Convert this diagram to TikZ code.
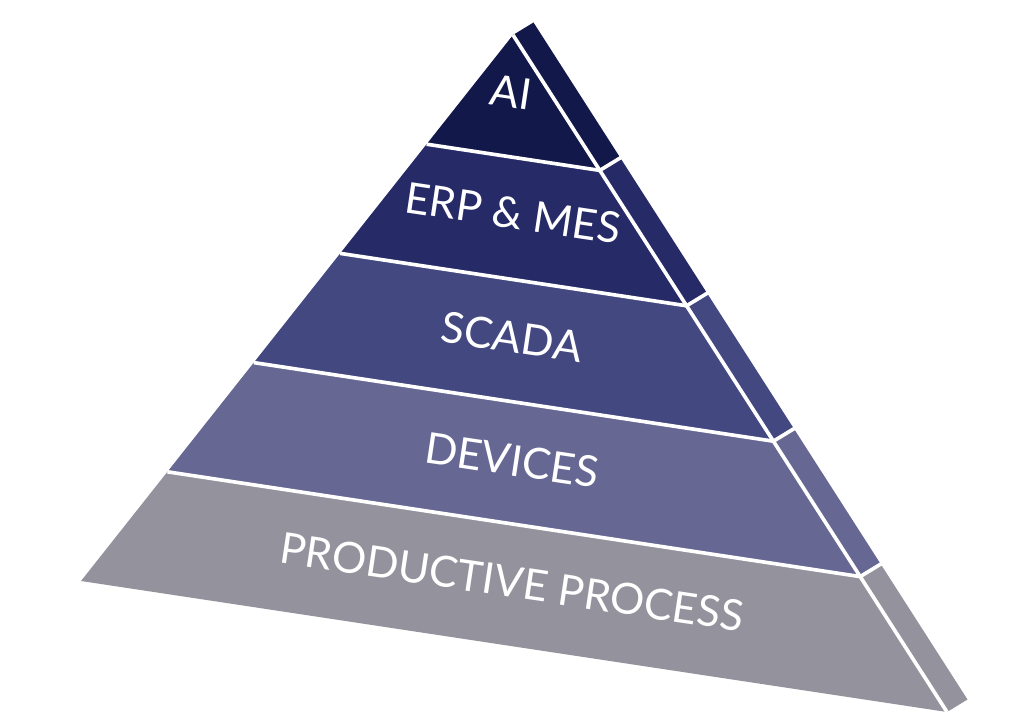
\documentclass[tikz,border=0pt]{standalone}
\usepackage{fontspec}
\setmainfont{Lato}
\usetikzlibrary{calc}
\definecolor{layerA}{HTML}{12184A}
\definecolor{layerB}{HTML}{262B68}
\definecolor{layerC}{HTML}{434881}
\definecolor{layerD}{HTML}{666893}
\definecolor{layerE}{HTML}{94939D}
\begin{document}
\begin{tikzpicture}[x=0.025cm,y=-0.025cm,
        gap/.style={white,line width=2.6pt},
        layertext/.style={white,rotate=-8.5,font=\fontsize{30.5}{33}\selectfont}]
    \useasboundingbox (0,0) rectangle (1024,720);
    \coordinate (apex) at (513,35);
    \coordinate (bl) at (81,581);
    \coordinate (br) at (947,712);
    \coordinate (d) at (20.5,-12.5);
    % front and side of each layer
    \foreach \i/\c in {0/layerA,1/layerB,2/layerC,3/layerD,4/layerE}
        {
            \pgfmathsetmacro\ta{\i/5}
            \pgfmathsetmacro\tb{(\i+1)/5}
            \fill[\c] ($(apex)!\ta!(bl)$) -- ($(apex)!\tb!(bl)$) -- ($(apex)!\tb!(br)$) -- ($(apex)!\ta!(br)$) -- cycle;
            \fill[\c] ($(apex)!\ta!(br)$) -- ($(apex)!\tb!(br)$) -- ($(apex)!\tb!(br)+(d)$) -- ($(apex)!\ta!(br)+(d)$) -- cycle;
        }
    \draw[gap] (apex) -- (br);
    \foreach \t in {0.2,0.4,0.6,0.8}
        \draw[gap] ($(apex)!\t!(bl)$) -- ($(apex)!\t!(br)$) -- ($(apex)!\t!(br)+1.2*(d)$);
    \node[layertext] (ai) at (511,92) {AI};
    \node[layertext] (erp) at (513,213) {ERP \& MES};
    \node[layertext] (scada) at (512,337) {SCADA};
    \node[layertext] (devices) at (512,460) {DEVICES};
    \node[layertext] (process) at (512,582) {PRODUCTIVE PROCESS};
\end{tikzpicture}
\end{document}
